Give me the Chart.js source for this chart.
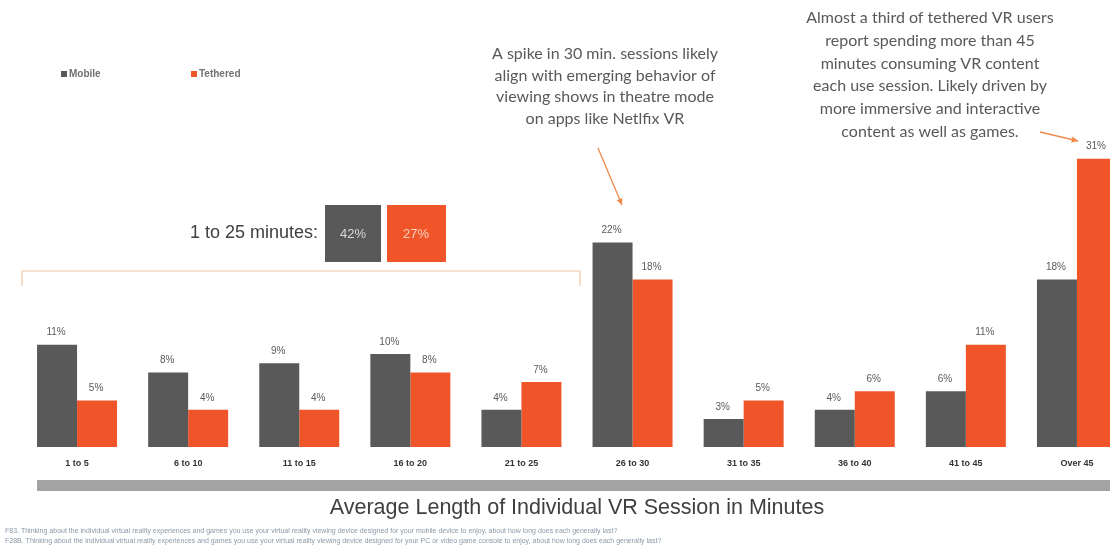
<!DOCTYPE html>
<html><head><meta charset="utf-8">
<script src="https://cdn.jsdelivr.net/npm/chart.js@4.4.1/dist/chart.umd.min.js"></script>
<style>
html,body{margin:0;padding:0;background:#fff;overflow:hidden;width:1110px;height:558px}
#wrap{width:1140px;height:558px}
</style>
</head><body><div id="wrap"><canvas id="c" width="1140" height="558"></canvas></div>
<script>
const categories = ['1 to 5','6 to 10','11 to 15','16 to 20','21 to 25','26 to 30','31 to 35','36 to 40','41 to 45','Over 45'];
const mobileValues = [11, 8, 9, 10, 4, 22, 3, 4, 6, 18];
const tetheredValues = [5, 4, 4, 8, 7, 18, 5, 6, 11, 31];
const seriesNames = ['Mobile', 'Tethered'];
const summaryLabel = '1 to 25 minutes:';
const summaryValues = [42, 27];
const axisTitle = 'Average Length of Individual VR Session in Minutes';
const note1Lines = ['A spike in 30 min. sessions likely', 'align with emerging behavior of', 'viewing shows in theatre mode', 'on apps like Netlfix VR'];
const note2Lines = ['Almost a third of tethered VR users', 'report spending more than 45', 'minutes consuming VR content', 'each use session. Likely driven by', 'more immersive and interactive', 'content as well as games.'];
const footnotes = [
  'F83. Thinking about the individual virtual reality experiences and games you use your virtual reality viewing device designed for your mobile device to enjoy, about how long does each generally last?',
  'F28B. Thinking about the individual virtual reality experiences and games you use your virtual reality viewing device designed for your PC or video game console to enjoy, about how long does each generally last?'
];

const COL_MOBILE = '#595959';
const COL_TETH = '#F0552A';

function arrow(ctx, x1, y1, x2, y2, color) {
  ctx.save();
  ctx.strokeStyle = color; ctx.fillStyle = color; ctx.lineWidth = 1.3;
  ctx.beginPath(); ctx.moveTo(x1, y1); ctx.lineTo(x2, y2); ctx.stroke();
  const a = Math.atan2(y2 - y1, x2 - x1), L = 7, w = 0.45;
  ctx.beginPath();
  ctx.moveTo(x2, y2);
  ctx.lineTo(x2 - L * Math.cos(a - w), y2 - L * Math.sin(a - w));
  ctx.lineTo(x2 - L * Math.cos(a + w), y2 - L * Math.sin(a + w));
  ctx.closePath(); ctx.fill();
  ctx.restore();
}

const decor = {
  id: 'decor',
  afterDatasetsDraw(chart) {
    const ctx = chart.ctx;
    ctx.save();
    ctx.font = '10px "Liberation Sans", Arial, sans-serif';
    ctx.fillStyle = '#5a5a5a';
    ctx.textAlign = 'center'; ctx.textBaseline = 'middle';
    chart.data.datasets.forEach((ds, i) => {
      chart.getDatasetMeta(i).data.forEach((bar, j) => {
        ctx.fillText(ds.data[j] + '%', bar.x - 1, bar.y - 12);
      });
    });
    ctx.restore();
  },
  afterDraw(chart) {
    const ctx = chart.ctx;
    ctx.save();
    // legend
    ctx.font = 'bold 10px "Liberation Sans", Arial, sans-serif';
    ctx.textBaseline = 'middle'; ctx.textAlign = 'left';
    const legPos = [61, 191];
    chart.data.datasets.forEach((ds, i) => {
      ctx.fillStyle = ds.backgroundColor;
      ctx.fillRect(legPos[i], 71, 6, 6);
      ctx.fillStyle = '#707070';
      ctx.fillText(ds.label, legPos[i] + 8, 74);
    });
    // grey axis band
    ctx.fillStyle = '#a3a3a3';
    ctx.fillRect(37, 480, 1110, 11);
    // summary
    ctx.font = '18px "Liberation Sans", Arial, sans-serif';
    ctx.fillStyle = '#404040';
    ctx.textAlign = 'right';
    ctx.fillText(summaryLabel, 318, 233);
    ctx.fillStyle = COL_MOBILE; ctx.fillRect(325, 205, 56, 57);
    ctx.fillStyle = COL_TETH; ctx.fillRect(387, 205, 59, 57);
    ctx.font = '13px "Liberation Sans", Arial, sans-serif';
    ctx.textAlign = 'center';
    ctx.fillStyle = '#d8d8d8'; ctx.fillText(summaryValues[0] + '%', 353, 234);
    ctx.fillStyle = '#f6d0c0'; ctx.fillText(summaryValues[1] + '%', 416, 234);
    // bracket
    ctx.strokeStyle = '#f2c7a5'; ctx.lineWidth = 1.2;
    ctx.beginPath();
    ctx.moveTo(22, 286); ctx.lineTo(22, 271); ctx.lineTo(580, 271); ctx.lineTo(580, 286);
    ctx.stroke();
    // notes
    ctx.font = '16px Lato, "Open Sans", sans-serif';
    ctx.fillStyle = '#595959';
    ctx.textAlign = 'center';
    note1Lines.forEach((l, i) => ctx.fillText(l, 605, 54 + i * 21.5));
    note2Lines.forEach((l, i) => ctx.fillText(l, 930, 18 + i * 22.7));
    arrow(ctx, 598, 148, 622, 205, '#ef8a4a');
    arrow(ctx, 1040, 132, 1078, 141, '#ef8a4a');
    // footnotes
    ctx.font = '7px "Liberation Sans", Arial, sans-serif';
    ctx.fillStyle = '#8a99a8';
    ctx.textAlign = 'left';
    footnotes.forEach((t, i) => ctx.fillText(t, 5, 531 + i * 10));
    ctx.restore();
  }
};

new Chart(document.getElementById('c'), {
  type: 'bar',
  data: {
    labels: categories,
    datasets: [
      { label: seriesNames[0], data: mobileValues, backgroundColor: COL_MOBILE, categoryPercentage: 0.72, barPercentage: 1.0, borderWidth: 0 },
      { label: seriesNames[1], data: tetheredValues, backgroundColor: COL_TETH, categoryPercentage: 0.72, barPercentage: 1.0, borderWidth: 0 }
    ]
  },
  options: {
    responsive: false,
    animation: false,
    devicePixelRatio: 1,
    layout: { padding: { left: 21.5, right: 7.5, top: 75, bottom: 0 } },
    plugins: { legend: { display: false }, tooltip: { enabled: false } },
    scales: {
      y: { display: false, min: 0, max: 40 },
      x: {
        grid: { display: false }, border: { display: false },
        ticks: { color: '#333', font: { size: 9, weight: 'bold', family: '"Liberation Sans", Arial, sans-serif' }, padding: 3, maxRotation: 0 },
        title: { display: true, text: axisTitle, color: '#404040', font: { size: 21.5, family: '"Liberation Sans", Arial, sans-serif' }, padding: { top: 0, bottom: 37 } },
        afterFit(scale) { scale.height = 111; }
      }
    }
  },
  plugins: [decor]
});
</script>
</body></html>
